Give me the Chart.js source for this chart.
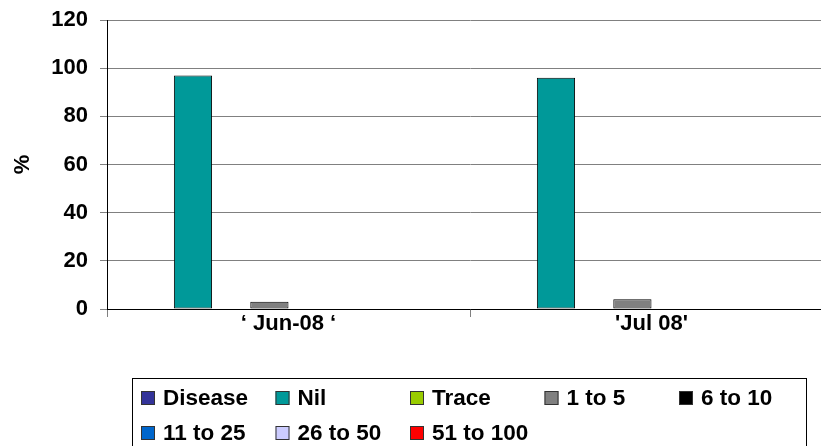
<!DOCTYPE html>
<html>
<head>
<meta charset="utf-8">
<script src="https://cdn.jsdelivr.net/npm/chart.js@4/dist/chart.umd.min.js"></script>
<style>
  html, body { margin: 0; padding: 0; background: #fff; overflow: hidden; width: 821px; height: 446px; }
  #wrap { position: absolute; left: 0; top: 0; width: 845px; height: 446px; }
</style>
</head>
<body>
<div id="wrap"><canvas id="c" width="845" height="446"></canvas></div>
<script>
// Survey months
const categories = ["\u2018 Jun-08 \u2018", "'Jul 08'"];

// Percentage of samples in each disease score class
const disease       = [0, 0];
const nil           = [97, 96];
const trace         = [0, 0];
const oneToFive     = [3, 4];
const sixToTen      = [0, 0];
const elevenTo25    = [0, 0];
const twentySixTo50 = [0, 0];
const fiftyOneTo100 = [0, 0];

// Value axis ticks
const yTicks = [0, 20, 40, 60, 80, 100, 120];

const seriesNames  = ["Disease", "Nil", "Trace", "1 to 5", "6 to 10", "11 to 25", "26 to 50", "51 to 100"];
const seriesValues = [disease, nil, trace, oneToFive, sixToTen, elevenTo25, twentySixTo50, fiftyOneTo100];
const seriesColors = ["#333399", "#009999", "#99CC00", "#808080", "#000000", "#0066CC", "#CCCCFF", "#FF0000"];

const FONT = "'Liberation Sans', Arial, sans-serif";

// Boxed legend laid out in fixed columns below the plot
const boxedLegend = {
  id: 'boxedLegend',
  afterDraw(chart) {
    const ctx = chart.ctx;
    const left = 132, top = 378, right = 806, bottom = 470;
    ctx.save();
    ctx.strokeStyle = '#000';
    ctx.lineWidth = 1;
    ctx.strokeRect(left + 0.5, top + 0.5, right - left, bottom - top);
    ctx.font = 'bold 22.5px ' + FONT;
    ctx.textBaseline = 'middle';
    ctx.textAlign = 'left';
    const colW = 134.5, perRow = 5;
    chart.data.datasets.forEach((ds, i) => {
      const row = Math.floor(i / perRow), col = i % perRow;
      const x = 141 + col * colW;
      const y = 398 + row * 35;
      ctx.fillStyle = ds.backgroundColor;
      ctx.fillRect(x, y - 7, 14, 14);
      ctx.strokeStyle = '#333';
      ctx.strokeRect(x + 0.5, y - 6.5, 13, 13);
      ctx.fillStyle = '#000';
      ctx.fillText(ds.label, x + 22, y + 1);
    });
    ctx.restore();
  }
};

new Chart(document.getElementById('c'), {
  type: 'bar',
  data: {
    labels: categories,
    datasets: seriesNames.map((name, i) => ({
      label: name,
      data: seriesValues[i],
      backgroundColor: seriesColors[i],
      borderColor: '#000',
      borderWidth: ctx => (ctx.raw ? 1 : 0),
      borderSkipped: false
    }))
  },
  options: {
    responsive: false,
    animation: false,
    layout: { padding: { left: 0, top: 20, right: 12, bottom: 97 } },
    categoryPercentage: 8 / 9.5,
    barPercentage: 1,
    plugins: { legend: { display: false }, tooltip: { enabled: false } },
    scales: {
      x: {
        afterFit: s => { s.height = 40; },
        grid: { display: true, drawOnChartArea: false, drawTicks: true, tickLength: 8, offset: true, color: '#808080' },
        border: { display: true, color: '#000', width: 1 },
        ticks: { color: '#000', padding: -6, font: { family: FONT, size: 22, weight: 'bold' } }
      },
      y: {
        min: 0, max: 120,
        afterFit: s => { s.width = 107; s.paddingTop = 0; s.paddingBottom = 0; },
        afterBuildTicks: s => { s.ticks = yTicks.map(v => ({ value: v })); },
        grid: { color: '#808080', lineWidth: 1, drawTicks: true, tickLength: 7 },
        border: { display: true, color: '#000', width: 1 },
        ticks: { color: '#000', padding: 12, font: { family: FONT, size: 22, weight: 'bold' } },
        title: { display: true, text: '%', color: '#000', padding: { top: 10, bottom: 0 }, font: { family: FONT, size: 22, weight: 'bold' } }
      }
    }
  },
  plugins: [boxedLegend]
});
</script>
</body>
</html>
